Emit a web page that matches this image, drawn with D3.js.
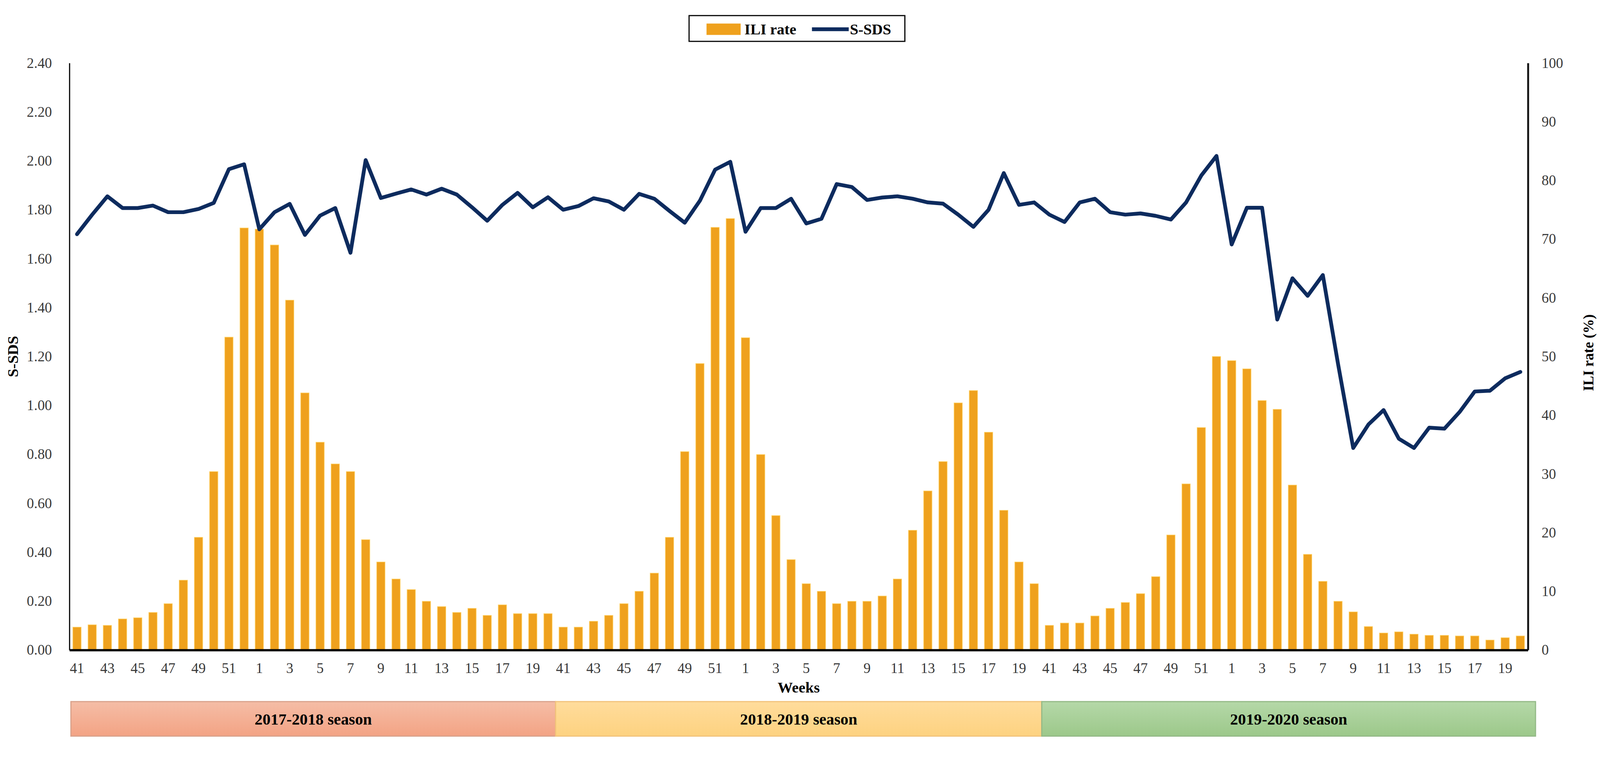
<!DOCTYPE html>
<html>
<head>
<meta charset="utf-8">
<script src="https://cdn.jsdelivr.net/npm/d3@7"></script>
<style>
  html, body { margin: 0; padding: 0; background: #fff; overflow: hidden; }
  #chart { width: 100vw; height: 100vh; }
  svg { display: block; width: 100%; height: 100%; }
  text { font-family: "Liberation Serif", "Times New Roman", serif; }
</style>
</head>
<body>
<div id="chart"></div>
<script>
"use strict";
// weeks shown in every season (week 41 of one year to week 20 of the next)
const seasonWeeks = [41, 42, 43, 44, 45, 46, 47, 48, 49, 50, 51, 52,
  1, 2, 3, 4, 5, 6, 7, 8, 9, 10, 11, 12, 13, 14, 15, 16, 17, 18, 19, 20];
const seasons = ["2017-2018 season", "2018-2019 season", "2019-2020 season"];

// ILI rate (%), right axis
const ili1718 = [3.9, 4.3, 4.2, 5.3, 5.5, 6.4, 7.9, 11.9, 19.2, 30.4, 53.3, 71.9,
  71.7, 69.0, 59.6, 43.8, 35.4, 31.7, 30.4, 18.8, 15.0, 12.1, 10.3, 8.3, 7.4, 6.4,
  7.1, 5.9, 7.7, 6.2, 6.2, 6.2];
const ili1819 = [3.9, 3.9, 4.9, 5.9, 7.9, 10.0, 13.1, 19.2, 33.8, 48.8, 72.0, 73.5,
  53.2, 33.3, 22.9, 15.4, 11.3, 10.0, 7.9, 8.3, 8.3, 9.2, 12.1, 20.4, 27.1, 32.1,
  42.1, 44.2, 37.1, 23.8, 15.0, 11.3];
const ili1920 = [4.2, 4.6, 4.6, 5.8, 7.1, 8.1, 9.6, 12.5, 19.6, 28.3, 37.9, 50.0,
  49.3, 47.9, 42.5, 41.0, 28.1, 16.3, 11.7, 8.3, 6.5, 4.0, 2.9, 3.1, 2.7, 2.5,
  2.5, 2.4, 2.4, 1.7, 2.1, 2.4];

// S-SDS, left axis
const sds1718 = [1.70, 1.78, 1.855, 1.807, 1.807, 1.817, 1.79, 1.79, 1.803, 1.828, 1.966, 1.986,
  1.72, 1.79, 1.824, 1.697, 1.776, 1.807, 1.624, 2.003, 1.848, 1.866, 1.883, 1.862,
  1.886, 1.862, 1.81, 1.755, 1.82, 1.869, 1.81, 1.851];
const sds1819 = [1.80, 1.815, 1.847, 1.834, 1.80, 1.865, 1.845, 1.795, 1.747, 1.837, 1.964, 1.996,
  1.71, 1.807, 1.807, 1.845, 1.744, 1.763, 1.905, 1.893, 1.84, 1.85, 1.855, 1.845,
  1.83, 1.825, 1.78, 1.73, 1.80, 1.95, 1.82, 1.83];
const sds1920 = [1.78, 1.75, 1.83, 1.845, 1.79, 1.78, 1.785, 1.775, 1.76, 1.83, 1.94, 2.02,
  1.658, 1.808, 1.808, 1.351, 1.52, 1.448, 1.533, 1.17, 0.826, 0.922, 0.981, 0.864,
  0.826, 0.909, 0.905, 0.973, 1.057, 1.06, 1.111, 1.137];

const leftTicks = [0, 0.2, 0.4, 0.6, 0.8, 1.0, 1.2, 1.4, 1.6, 1.8, 2.0, 2.2, 2.4];
const rightTicks = [0, 10, 20, 30, 40, 50, 60, 70, 80, 90, 100];

const W = 4219, H = 1938;
const plot = { left: 183, right: 4029, top: 137, bottom: 1685 };
const BAR = "#EFA11D", LINE = "#0D2B5E";
const seasonFill = [["#F5BDA6", "#F3A384"], ["#FFDC9C", "#FDD280"], ["#B5D8A8", "#9CC88A"]];
const seasonEdge = ["#D9A18A", "#F2C27A", "#93B986"];

const weeks = seasons.flatMap(() => seasonWeeks);
const ili = ili1718.concat(ili1819, ili1920);
const sds = sds1718.concat(sds1819, sds1920);
const idx = d3.range(weeks.length);

// the viewBox keeps the whole chart in the window, whatever its exact size
const svg = d3.select("#chart").append("svg")
  .attr("viewBox", `0 0 ${W} ${H}`)
  .attr("preserveAspectRatio", "xMidYMid meet");

const x = d3.scaleBand().domain(idx)
  .range([plot.left, plot.right])
  .paddingInner(0.45).paddingOuter(0.225);
const yLeft = d3.scaleLinear().domain([0, 2.4]).range([plot.bottom, plot.top]);
const yRight = d3.scaleLinear().domain([0, 100]).range([plot.bottom, plot.top]);

// gradients for the season strip
const defs = svg.append("defs");
seasonFill.forEach((c, i) => {
  const g = defs.append("linearGradient").attr("id", "sg" + i)
    .attr("x1", 0).attr("y1", 0).attr("x2", 0).attr("y2", 1);
  g.append("stop").attr("offset", "0%").attr("stop-color", c[0]);
  g.append("stop").attr("offset", "100%").attr("stop-color", c[1]);
});

// bars
svg.append("g").attr("class", "bars")
  .selectAll("rect")
  .data(idx)
  .enter().append("rect")
  .attr("x", i => x(i))
  .attr("width", x.bandwidth())
  .attr("y", i => yRight(ili[i]))
  .attr("height", i => plot.bottom - yRight(ili[i]))
  .style("fill", BAR)
  .style("stroke", "#FFD36A")
  .style("stroke-width", 1.5);

// line
const line = d3.line()
  .x(i => x(i) + x.bandwidth() / 2)
  .y(i => yLeft(sds[i]));
svg.append("path")
  .datum(idx)
  .attr("d", line)
  .style("fill", "none")
  .style("stroke", LINE)
  .style("stroke-width", 10)
  .style("stroke-linejoin", "round")
  .style("stroke-linecap", "round");

// axes
const gLeft = svg.append("g")
  .attr("transform", `translate(${plot.left},0)`)
  .call(d3.axisLeft(yLeft).tickValues(leftTicks).tickFormat(d3.format(".2f"))
    .tickSize(0).tickPadding(46));
const gRight = svg.append("g")
  .attr("transform", `translate(${plot.right},0)`)
  .call(d3.axisRight(yRight).tickValues(rightTicks).tickFormat(d3.format("d"))
    .tickSize(0).tickPadding(36));
const gBottom = svg.append("g")
  .attr("transform", `translate(0,${plot.bottom})`)
  .call(d3.axisBottom(x).tickValues(idx.filter(i => i % 2 === 0))
    .tickFormat(i => weeks[i]).tickSize(0).tickPadding(34));

[gLeft, gRight, gBottom].forEach(g => {
  g.selectAll("text")
    .style("font-family", '"Liberation Serif", "Times New Roman", serif')
    .style("font-size", "38px")
    .style("fill", "#3a3a3a");
  g.select(".domain").style("stroke", "#000");
});
gLeft.select(".domain").style("stroke-width", 3);
gRight.select(".domain").style("stroke-width", 5).style("stroke", "#111");
gBottom.select(".domain").style("stroke-width", 6);
gBottom.raise();

// axis titles
svg.append("text")
  .attr("transform", `translate(47,${(plot.top + plot.bottom) / 2}) rotate(-90)`)
  .attr("text-anchor", "middle")
  .style("font-size", "40px").style("font-weight", "bold")
  .text("S-SDS");
svg.append("text")
  .attr("transform", `translate(4202,${(plot.top + plot.bottom) / 2 - 10}) rotate(-90)`)
  .attr("text-anchor", "middle")
  .style("font-size", "38px").style("font-weight", "bold")
  .text("ILI rate (%)");
svg.append("text")
  .attr("x", (plot.left + plot.right) / 2).attr("y", 1797)
  .attr("text-anchor", "middle")
  .style("font-size", "40px").style("font-weight", "bold")
  .text("Weeks");

// season strip: each block follows its 32 week slots of the x scale
const strip = { left: 187, right: 4049, top: 1821, bottom: 1912 };
const slotLeft = i => x(i) - x.step() * x.paddingInner() / 2;
const seasonSpan = seasons.map((s, k) => ({
  name: s,
  x0: k === 0 ? strip.left : slotLeft(k * seasonWeeks.length),
  x1: k === seasons.length - 1 ? strip.right : slotLeft((k + 1) * seasonWeeks.length)
}));
const sg = svg.append("g").attr("class", "seasons")
  .selectAll("g")
  .data(seasonSpan)
  .enter().append("g");
sg.append("rect")
  .attr("x", d => d.x0)
  .attr("y", strip.top)
  .attr("width", d => d.x1 - d.x0)
  .attr("height", strip.bottom - strip.top)
  .style("fill", (d, i) => `url(#sg${i})`)
  .style("stroke", (d, i) => seasonEdge[i])
  .style("stroke-width", 3);
sg.append("text")
  .attr("x", d => (d.x0 + d.x1) / 2)
  .attr("y", (strip.top + strip.bottom) / 2)
  .attr("dy", "0.35em")
  .attr("text-anchor", "middle")
  .style("font-size", "42px").style("font-weight", "bold")
  .text(d => d.name);

// legend
const lg = svg.append("g").attr("class", "legend");
lg.append("rect")
  .attr("x", 1817).attr("y", 12).attr("width", 569).attr("height", 68)
  .style("fill", "#fff").style("stroke", "#000").style("stroke-width", 3);
lg.append("rect")
  .attr("x", 1863).attr("y", 33).attr("width", 90).attr("height", 30)
  .style("fill", BAR);
lg.append("text")
  .attr("x", 1963).attr("y", 48).attr("dy", "0.35em")
  .style("font-size", "40px").style("font-weight", "bold")
  .text("ILI rate");
lg.append("line")
  .attr("x1", 2141).attr("x2", 2238).attr("y1", 48).attr("y2", 48)
  .style("stroke", LINE).style("stroke-width", 10);
lg.append("text")
  .attr("x", 2241).attr("y", 48).attr("dy", "0.35em")
  .style("font-size", "40px").style("font-weight", "bold")
  .text("S-SDS");
</script>
</body>
</html>
